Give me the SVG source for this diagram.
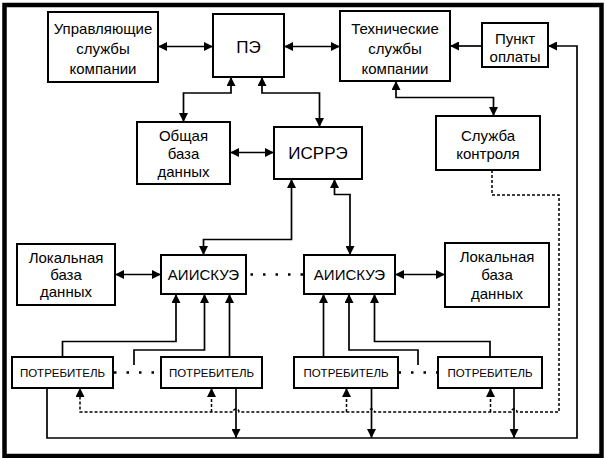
<svg xmlns="http://www.w3.org/2000/svg" width="606" height="458" viewBox="0 0 606 458">
<defs>
<marker id="a" viewBox="0 0 10 10" refX="10" refY="5" markerWidth="10" markerHeight="9" markerUnits="userSpaceOnUse" orient="auto-start-reverse">
<path d="M0,0 L10,5 L0,10 z" fill="#000"/>
</marker>
<style>
.box{fill:#fff;stroke:#000;stroke-width:2}
text{font-family:"Liberation Sans",Arial,sans-serif;font-size:15px;text-anchor:middle;fill:#000}
.big{font-size:17px}
.sm{font-size:11.5px}
.ln{fill:none;stroke:#000;stroke-width:1.7}
.da{fill:none;stroke:#000;stroke-width:1.5;stroke-dasharray:3 2}
.dot{fill:none;stroke:#000;stroke-width:2.5;stroke-dasharray:2.5 10}
</style>
</defs>
<rect x="0" y="0" width="606" height="458" fill="#fff"/>
<rect x="4.5" y="5" width="597" height="451" fill="none" stroke="#000" stroke-width="4.5"/>

<g id="connectors">
<path class="ln" d="M158,46.5 H213" marker-start="url(#a)" marker-end="url(#a)"/>
<path class="ln" d="M284,46.5 H340" marker-start="url(#a)" marker-end="url(#a)"/>
<path class="ln" d="M482,46 H450" marker-end="url(#a)"/>
<path class="ln" d="M231,77 V93 H183.5 V122" marker-start="url(#a)" marker-end="url(#a)"/>
<path class="ln" d="M262,77 V93 H319.5 V127" marker-start="url(#a)" marker-end="url(#a)"/>
<path class="ln" d="M396,81 V97.5 H493.5 V116" marker-start="url(#a)" marker-end="url(#a)"/>
<path class="ln" d="M230,152.5 H274" marker-start="url(#a)" marker-end="url(#a)"/>
<path class="ln" d="M291.5,179 V239.5 H203.5 V255" marker-start="url(#a)" marker-end="url(#a)"/>
<path class="ln" d="M334.5,179 V194.5 H350 V255" marker-start="url(#a)" marker-end="url(#a)"/>
<path class="ln" d="M115,274.5 H161" marker-start="url(#a)" marker-end="url(#a)"/>
<path class="ln" d="M395,274.5 H445" marker-start="url(#a)" marker-end="url(#a)"/>
<path class="dot" d="M250.5,274.5 H304"/>
<path class="dot" d="M114,372.5 H161"/>
<path class="dot" d="M398.5,372.5 H438"/>
<path class="ln" d="M62.5,357 V341.5 H176 V294" marker-end="url(#a)"/>
<path class="ln" d="M134,365 V350 H204.5 V294" marker-end="url(#a)"/>
<path class="ln" d="M229.5,357 V294" marker-end="url(#a)"/>
<path class="ln" d="M323.5,357 V294" marker-end="url(#a)"/>
<path class="ln" d="M418,365 V350 H349 V294" marker-end="url(#a)"/>
<path class="ln" d="M490,357 V341.5 H374.5 V294" marker-end="url(#a)"/>
<path class="ln" d="M47,388 V438 H577 V46 H548" marker-end="url(#a)"/>
<path class="ln" d="M236,388 V438" marker-end="url(#a)"/>
<path class="ln" d="M371.5,388 V438" marker-end="url(#a)"/>
<path class="ln" d="M514,388 V438" marker-end="url(#a)"/>
<path class="da" d="M492,170 V195 H559 V412 H517 A3,3 0 0 0 511,412 H374.5 A3,3 0 0 0 368.5,412 H239 A3,3 0 0 0 233,412 H80 V388" marker-end="url(#a)"/>
<path class="da" d="M211.5,412 V388" marker-end="url(#a)"/>
<path class="da" d="M346.5,412 V388" marker-end="url(#a)"/>
<path class="da" d="M490.5,412 V388" marker-end="url(#a)"/>
</g>

<g id="upr"><rect class="box" x="48" y="12" width="110" height="70"/>
<text x="103" y="33.5">Управляющие</text><text x="103" y="53.5">службы</text><text x="103" y="73.5">компании</text></g>
<g id="pe"><rect class="box" x="213" y="14" width="71" height="63"/>
<text class="big" x="248.5" y="52.5">ПЭ</text></g>
<g id="tech"><rect class="box" x="340" y="11" width="110" height="70"/>
<text x="395" y="33.5">Технические</text><text x="395" y="53.5">службы</text><text x="395" y="73.5">компании</text></g>
<g id="punkt"><rect class="box" x="482" y="23" width="66" height="44"/>
<text x="515" y="43.5">Пункт</text><text x="515" y="62">оплаты</text></g>
<g id="obsh"><rect class="box" x="137" y="122" width="93" height="62"/>
<text x="183.5" y="140.5">Общая</text><text x="183.5" y="159">база</text><text x="183.5" y="177">данных</text></g>
<g id="isrre"><rect class="box" x="274" y="127" width="88" height="52"/>
<text class="big" x="318" y="158.5">ИСРРЭ</text></g>
<g id="kontrol"><rect class="box" x="436" y="116" width="104" height="54"/>
<text x="488" y="140.5">Служба</text><text x="488" y="159">контроля</text></g>
<g id="lbd1"><rect class="box" x="17" y="244" width="98" height="61"/>
<text x="66" y="263">Локальная</text><text x="66" y="280">база</text><text x="66" y="297">данных</text></g>
<g id="aiis1"><rect class="box" x="161" y="255" width="85" height="39"/>
<text x="203.5" y="280">АИИСКУЭ</text></g>
<g id="aiis2"><rect class="box" x="304" y="255" width="91" height="39"/>
<text x="349.5" y="280">АИИСКУЭ</text></g>
<g id="lbd2"><rect class="box" x="445" y="243" width="104" height="64"/>
<text x="497" y="262">Локальная</text><text x="497" y="280">база</text><text x="497" y="298.5">данных</text></g>
<g id="potr1"><rect class="box" x="12" y="357" width="101" height="31"/>
<text class="sm" x="62.5" y="377">ПОТРЕБИТЕЛЬ</text></g>
<g id="potr2"><rect class="box" x="161" y="357" width="101" height="31"/>
<text class="sm" x="211.5" y="377">ПОТРЕБИТЕЛЬ</text></g>
<g id="potr3"><rect class="box" x="294" y="357" width="104" height="31"/>
<text class="sm" x="346" y="377">ПОТРЕБИТЕЛЬ</text></g>
<g id="potr4"><rect class="box" x="438" y="357" width="104" height="31"/>
<text class="sm" x="490" y="377">ПОТРЕБИТЕЛЬ</text></g>
</svg>
